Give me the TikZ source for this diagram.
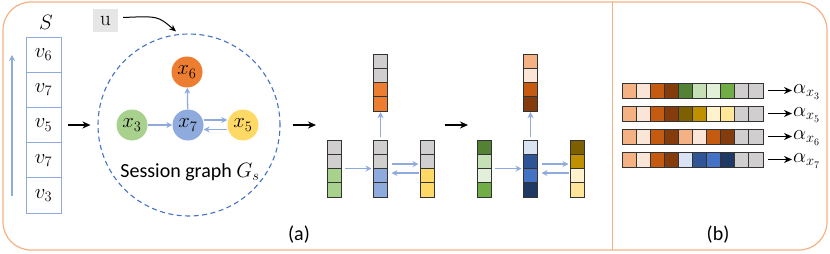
\documentclass[tikz,border=0pt]{standalone}
\usepackage{fontspec}
\newfontfamily\carlito{Carlito}
\usetikzlibrary{positioning,arrows.meta}
\definecolor{framec}{HTML}{F4B183}
\definecolor{seqblue}{HTML}{8FAADC}
\definecolor{dashblue}{HTML}{4472C4}
\definecolor{ugray}{HTML}{E7E6E6}
\definecolor{cgray}{HTML}{D0CECE}
\definecolor{itgreen}{HTML}{A9D18E}
\definecolor{itblue}{HTML}{8FAADC}
\definecolor{ityellow}{HTML}{FFD966}
\definecolor{itorange}{HTML}{ED7D31}
\definecolor{o1}{HTML}{F4B183}
\definecolor{o2}{HTML}{FBE5D6}
\definecolor{o3}{HTML}{C55A11}
\definecolor{o4}{HTML}{843C0C}
\definecolor{g1}{HTML}{548235}
\definecolor{g2}{HTML}{C5E0B4}
\definecolor{g3}{HTML}{E2F0D9}
\definecolor{g4}{HTML}{70AD47}
\definecolor{b1}{HTML}{DAE3F3}
\definecolor{b2}{HTML}{2F5597}
\definecolor{b3}{HTML}{4472C4}
\definecolor{b4}{HTML}{203864}
\definecolor{y1}{HTML}{7F6000}
\definecolor{y2}{HTML}{BF9000}
\definecolor{y3}{HTML}{FFF2CC}
\definecolor{y4}{HTML}{FFE699}
\tikzset{
    seqcell/.style={draw=seqblue, line width=0.9pt, minimum width=35pt, minimum height=35.2pt, inner sep=0pt, font=\fontsize{22}{24}\selectfont},
    item/.style={circle, minimum size=31pt, inner sep=0pt, font=\fontsize{21}{23}\selectfont},
    cell/.style={draw=black!80, line width=0.9pt, minimum width=14pt, minimum height=14.3pt, inner sep=0pt, outer sep=0pt},
    hcell/.style={draw=black!80, line width=0.9pt, minimum width=14.1pt, minimum height=15pt, inner sep=0pt, outer sep=0pt},
    blkarr/.style={-{Stealth[length=8pt,width=7pt]}, line width=1.3pt},
    bluearr/.style={-{Stealth[length=6pt,width=6pt]}, draw=seqblue, line width=1.3pt},
    lbl/.style={font=\carlito\fontsize{20}{22}\selectfont},
    alab/.style={anchor=west, inner sep=1pt, font=\fontsize{20}{22}\selectfont}
}
\newcommand{\veccol}[4]{\foreach \c [count=\k] in {#4} \node[cell, fill=\c] (#1-\k) at (#2,#3+14.3*\k-7.15) {};}
\begin{document}
\begin{tikzpicture}[x=1pt,y=-1pt]
    \useasboundingbox (0,0) rectangle (830,254);
    \draw[draw=framec, line width=1.2pt, rounded corners=28pt] (3,2) rectangle (827,250);
    \draw[draw=framec, line width=1pt] (612,2) -- (612,250);
    % (a) sequence
    \node[font=\fontsize{21}{23}\selectfont] (S) at (46,22) {$S$};
    \foreach \lab [count=\i] in {6,7,5,7,3}
        \node[seqcell] (v\i) at (43.5,54.6+35.2*\i-35.2) {$v_{\lab}$};
    \coordinate (seqlow) at (12,196);
    \coordinate (seqhigh) at (12,55);
    \draw[bluearr, line width=1.2pt] (seqlow) -- (seqhigh);
    % session graph
    \node[fill=ugray, minimum width=25pt, minimum height=23pt, inner sep=0pt, font=\fontsize{21}{23}\selectfont] (u) at (105.5,20.5) {u};
    \node[circle, draw=dashblue, dash pattern=on 5pt off 3.5pt, line width=1.1pt, minimum size=182pt] (sess) at (189,125) {};
    \node[item, fill=itgreen] (x3) at (132,125) {$x_3$};
    \node[item, fill=itblue] (x7) at (188,125) {$x_7$};
    \node[item, fill=ityellow] (x5) at (243,125) {$x_5$};
    \node[item, fill=itorange] (x6) at (187,72) {$x_6$};
    \node[lbl] (sglab) at (190,172) {Session graph $G_s$};
    \draw[bluearr] (x3) -- (x7);
    \draw[bluearr] ([yshift=5pt]x7.east) -- ([yshift=5pt]x5.west);
    \draw[bluearr] ([yshift=-4.5pt]x5.west) -- ([yshift=-4.5pt]x7.east);
    \draw[bluearr] (x7) -- (x6);
    \draw[blkarr] ([xshift=7pt]v3.east) -- ([xshift=-7pt]sess.west);
    \draw[-{Stealth[length=7pt,width=6pt]}, line width=1pt] ([xshift=5pt,yshift=3pt]u.east) .. controls (158,16) .. ([xshift=-13pt,yshift=2pt]sess.north);
    % first embeddings
    \veccol{a}{334}{140}{cgray,cgray,itgreen,itgreen}
    \veccol{b}{380.5}{140}{cgray,cgray,itblue,itblue}
    \veccol{c}{427.5}{140}{cgray,cgray,ityellow,ityellow}
    \veccol{d}{380.5}{54}{cgray,cgray,itorange,itorange}
    \draw[bluearr, shorten <=3pt, shorten >=1pt] (b-1.north) -- (d-4.south);
    \draw[bluearr] ([xshift=4pt]a-2.south east) -- ([xshift=-2pt]b-2.south west);
    \draw[bluearr] ([xshift=4pt,yshift=4.5pt]b-2.south east) -- ([xshift=-2pt,yshift=4.5pt]c-2.south west);
    \draw[bluearr] ([xshift=-2pt,yshift=-4.5pt]c-2.south west) -- ([xshift=4pt,yshift=-4.5pt]b-2.south east);
    \coordinate (g1in) at (316,125);
    \draw[blkarr] ([xshift=12pt]sess.east) -- (g1in);
    % second embeddings
    \veccol{e}{484}{140}{g1,g2,g3,g4}
    \veccol{f}{530.5}{140}{b1,b2,b3,b4}
    \veccol{g}{577.5}{140}{y1,y2,y3,y4}
    \veccol{h}{530.5}{54}{o1,o2,o3,o4}
    \draw[bluearr, shorten <=3pt, shorten >=1pt] (f-1.north) -- (h-4.south);
    \draw[bluearr] ([xshift=4pt]e-2.south east) -- ([xshift=-2pt]f-2.south west);
    \draw[bluearr] ([xshift=4pt,yshift=4.5pt]f-2.south east) -- ([xshift=-2pt,yshift=4.5pt]g-2.south west);
    \draw[bluearr] ([xshift=-2pt,yshift=-4.5pt]g-2.south west) -- ([xshift=4pt,yshift=-4.5pt]f-2.south east);
    \coordinate (g2in) at (468,125);
    \draw[blkarr] ([xshift=10pt]c-1.east |- g2in) -- (g2in);
    \node[lbl] (la) at (299,235) {(a)};
    % (b) attention vectors
    \foreach \cols/\lab [count=\r] in {{o1,o2,o3,o4,g1,g2,g3,g4,cgray,cgray}/3,
                                       {o1,o2,o3,o4,y1,y2,y3,y4,cgray,cgray}/5,
                                       {o1,o2,o3,o4,o1,o2,o3,o4,cgray,cgray}/6,
                                       {o1,o2,o3,o4,b1,b2,b3,b4,cgray,cgray}/7} {
        \foreach \c [count=\k] in \cols
            \node[hcell, fill=\c] (r\r-\k) at (629+14.1*\k-14.1, 90.5+23*\r-23) {};
        \node[alab] (al\r) at (792, 92+23*\r-23) {$\alpha_{x_{\lab}}$};
        \draw[blkarr] ([xshift=5pt]r\r-10.east) -- (al\r.west |- r\r-10.east);
    }
    \node[lbl] (lb) at (718,235) {(b)};
\end{tikzpicture}
\end{document}
